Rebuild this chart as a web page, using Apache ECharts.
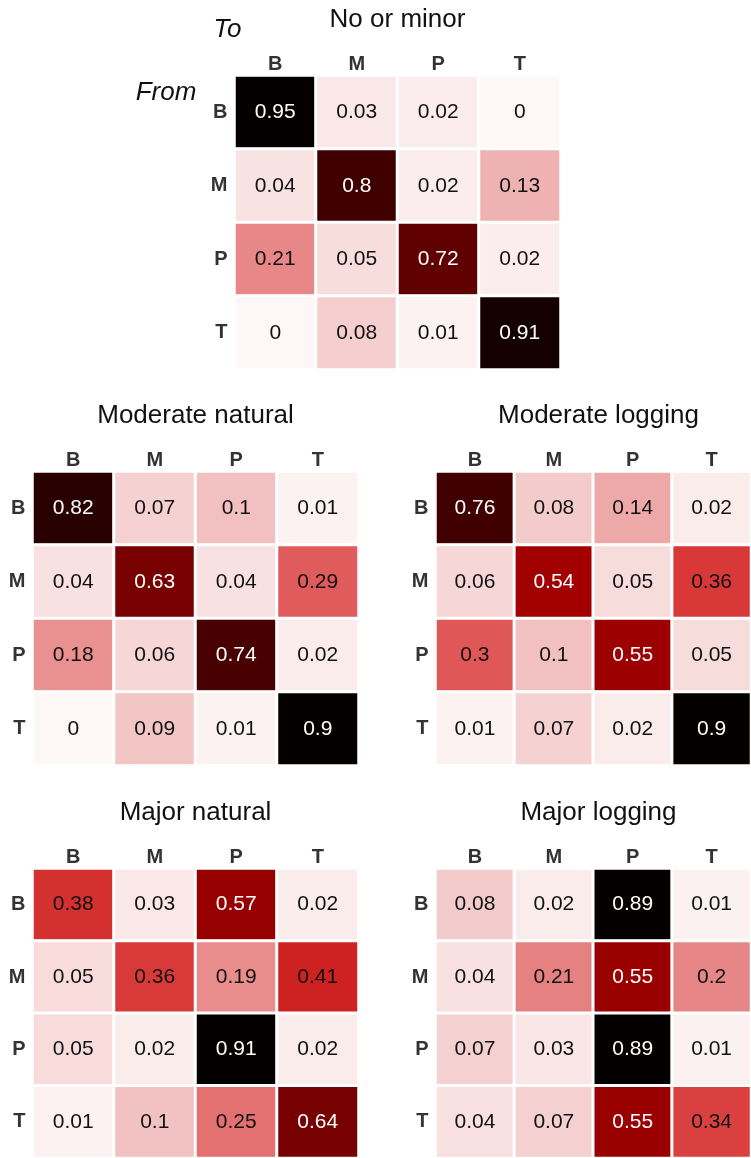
<!DOCTYPE html>
<html>
<head>
<meta charset="utf-8">
<script src="https://cdn.jsdelivr.net/npm/echarts@6/dist/echarts.min.js"></script>
<style>
html,body{margin:0;padding:0;background:#fff;}
#c{width:751px;height:1158px;}
</style>
</head>
<body>
<div id="c"></div>
<script>
var states = ['B', 'M', 'P', 'T'];
var panelTitles = ['No or minor', 'Moderate natural', 'Moderate logging', 'Major natural', 'Major logging'];
// rows = From, columns = To
var noMinor = [
  [0.95, 0.03, 0.02, 0],
  [0.04, 0.8, 0.02, 0.13],
  [0.21, 0.05, 0.72, 0.02],
  [0, 0.08, 0.01, 0.91]
];
var modNatural = [
  [0.82, 0.07, 0.1, 0.01],
  [0.04, 0.63, 0.04, 0.29],
  [0.18, 0.06, 0.74, 0.02],
  [0, 0.09, 0.01, 0.9]
];
var modLogging = [
  [0.76, 0.08, 0.14, 0.02],
  [0.06, 0.54, 0.05, 0.36],
  [0.3, 0.1, 0.55, 0.05],
  [0.01, 0.07, 0.02, 0.9]
];
var majNatural = [
  [0.38, 0.03, 0.57, 0.02],
  [0.05, 0.36, 0.19, 0.41],
  [0.05, 0.02, 0.91, 0.02],
  [0.01, 0.1, 0.25, 0.64]
];
var majLogging = [
  [0.08, 0.02, 0.89, 0.01],
  [0.04, 0.21, 0.55, 0.2],
  [0.07, 0.03, 0.89, 0.01],
  [0.04, 0.07, 0.55, 0.34]
];
var matrices = [noMinor, modNatural, modLogging, majNatural, majLogging];

var palette = ['#fdf7f7', '#f3c6c6', '#e99090', '#e26666', '#d83838', '#c40c0c',
               '#a20000', '#780000', '#500000', '#2c0000', '#050000'];

var FONT = '"Liberation Sans", Arial, Helvetica, sans-serif';
var layouts = [
  {left: 234.5, top: 75.5, width: 326, height: 294, cx: 397.5, ty: 20},
  {left: 32.5, top: 471.5, width: 326, height: 294, cx: 195.5, ty: 416},
  {left: 435.5, top: 471.5, width: 326, height: 294, cx: 598.5, ty: 416},
  {left: 32.5, top: 868.5, width: 326, height: 296, cx: 195.5, ty: 813},
  {left: 435.5, top: 868.5, width: 326, height: 296, cx: 598.5, ty: 813}
];

var grids = [], xAxes = [], yAxes = [], series = [], visualMaps = [], graphics = [];
matrices.forEach(function (m, i) {
  var L = layouts[i];
  var mx = 0;
  m.forEach(function (r) { r.forEach(function (v) { if (v > mx) mx = v; }); });
  grids.push({left: L.left, top: L.top, width: L.width, height: L.height, containLabel: false});
  xAxes.push({
    type: 'category', gridIndex: i, data: states, position: 'top',
    axisLine: {show: false}, axisTick: {show: false}, splitLine: {show: false},
    axisLabel: {fontFamily: FONT, fontSize: 20, fontWeight: 'bold', color: '#333', margin: 1}
  });
  yAxes.push({
    type: 'category', gridIndex: i, data: states, inverse: true,
    axisLine: {show: false}, axisTick: {show: false}, splitLine: {show: false},
    axisLabel: {fontFamily: FONT, fontSize: 20, fontWeight: 'bold', color: '#333', margin: 7}
  });
  var data = [];
  for (var r = 0; r < 4; r++) {
    for (var c = 0; c < 4; c++) {
      var v = m[r][c];
      data.push({value: [c, r, v], label: {color: (v / mx > 0.5) ? '#ffffff' : '#111111'}});
    }
  }
  series.push({
    type: 'heatmap', xAxisIndex: i, yAxisIndex: i, data: data,
    itemStyle: {borderColor: '#ffffff', borderWidth: 3},
    label: {show: true, fontFamily: FONT, fontSize: 21,
      formatter: function (p) { return String(p.value[2]); }},
    emphasis: {disabled: true}
  });
  visualMaps.push({
    type: 'continuous', show: false, seriesIndex: i, dimension: 2,
    min: 0, max: mx, inRange: {color: palette}
  });
  graphics.push({
    type: 'text', x: L.cx, y: L.ty,
    style: {text: panelTitles[i], fontFamily: FONT, fontSize: 26, fill: '#111',
      align: 'center', verticalAlign: 'middle'}
  });
});
graphics.push({type: 'text', x: 227.5, y: 30,
  style: {text: 'To', fontFamily: FONT, fontSize: 26, fontStyle: 'italic', fill: '#111', align: 'center', verticalAlign: 'middle'}});
graphics.push({type: 'text', x: 166, y: 93,
  style: {text: 'From', fontFamily: FONT, fontSize: 26, fontStyle: 'italic', fill: '#111', align: 'center', verticalAlign: 'middle'}});

var chart = echarts.init(document.getElementById('c'), null, {renderer: 'canvas'});
chart.setOption({
  backgroundColor: '#ffffff',
  animation: false,
  grid: grids,
  xAxis: xAxes,
  yAxis: yAxes,
  visualMap: visualMaps,
  series: series,
  graphic: graphics
});
</script>
</body>
</html>
